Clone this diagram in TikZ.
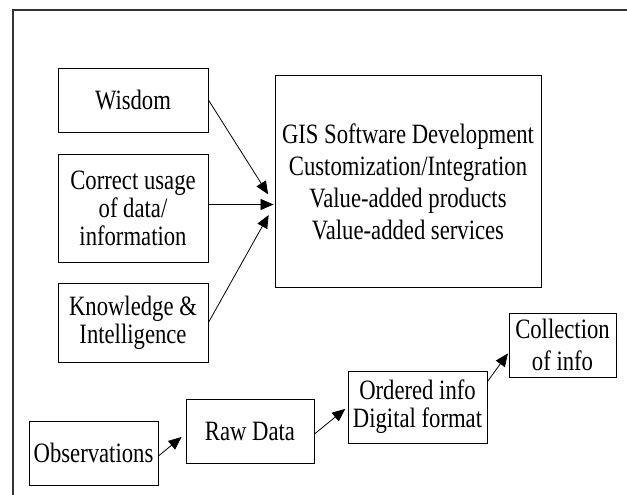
\documentclass[tikz,border=0pt]{standalone}
\usepackage{fontspec}
\setmainfont[FakeStretch=0.81]{Liberation Serif}
\usetikzlibrary{arrows.meta}
\begin{document}
\begin{tikzpicture}[x=1pt, y=-1pt, font=\fontsize{28}{28}\selectfont,
  box/.style={draw, line width=0.9pt, inner sep=0pt, align=center},
  arr/.style={-{Triangle[length=13pt, width=11pt]}, line width=0.8pt}]
\useasboundingbox (0,0) rectangle (627,495);
% outer frame, open at right and bottom
\draw[line width=1.6pt, black!80] (13,495) -- (13,10) -- (627,10);
% left column: what feeds the GIS work
\node[box, minimum width=150, minimum height=64] (wisdom) at (133,100) {Wisdom};
\node[box, minimum width=150, minimum height=108] (usage) at (133,208)
  {Correct usage\\of data/\\information};
\node[box, minimum width=150, minimum height=79] (knowledge) at (133,322.5)
  {Knowledge \&\\Intelligence};
% right: the GIS box
\node[box, minimum width=266, minimum height=212, font=\fontsize{28}{32}\selectfont] (gis) at (408,181.5)
  {GIS Software Development\\Customization/Integration\\Value-added products\\Value-added services};
\coordinate (hub) at ([yshift=-23pt]gis.west);
\draw[arr, shorten >=12pt] (wisdom.east) -- (hub);
\draw[arr, shorten >=1pt] (usage.east |- hub) -- (hub);
\draw[arr, shorten >=12pt] (knowledge.east) -- (hub);
% bottom: the data staircase
\node[box, minimum width=129, minimum height=64] (obs) at (93.5,453) {Observations};
\node[box, minimum width=128, minimum height=64] (raw) at (250,431) {Raw Data};
\node[box, minimum width=139, minimum height=72] (ordered) at (417.5,407)
  {Ordered info\\Digital format};
\node[box, minimum width=107, minimum height=64, font=\fontsize{28}{32}\selectfont] (collect) at (562.5,345)
  {Collection\\of info};
\draw[arr] ([yshift=-3pt]obs.east) -- ([xshift=-4pt, yshift=-6pt]raw.west);
\draw[arr, shorten >=3pt] ([yshift=-3pt]raw.east) -- (ordered.west);
\draw[arr, shorten >=1pt] (ordered.20) -- (collect.188);
\end{tikzpicture}
\end{document}
